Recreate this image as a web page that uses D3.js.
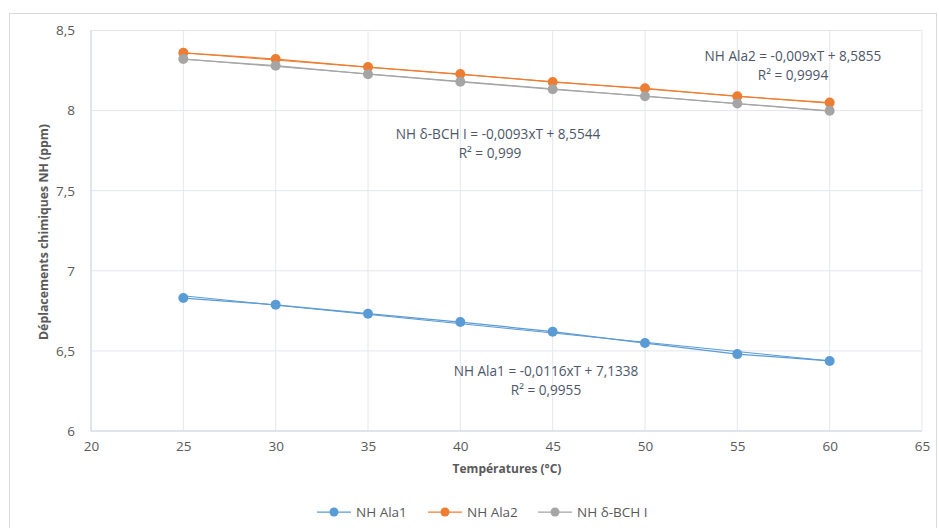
<!DOCTYPE html>
<html><head><meta charset="utf-8">
<script src="https://cdn.jsdelivr.net/npm/d3@7"></script>
<style>
body{margin:0;background:#fff;}
text{font-family:"Open Sans","Noto Sans",sans-serif;fill:#595959;}
</style></head>
<body><svg id="c" width="939" height="528"></svg>
<script>
const temperatures = [25, 30, 35, 40, 45, 50, 55, 60];
const ala1 = [6.830, 6.788, 6.732, 6.680, 6.620, 6.549, 6.480, 6.437];
const ala2 = [8.361, 8.322, 8.272, 8.228, 8.178, 8.139, 8.089, 8.050];
const bch = [8.322, 8.280, 8.227, 8.180, 8.133, 8.090, 8.044, 7.999];
const seriesNames = ["NH Ala1", "NH Ala2", "NH δ-BCH I"];
const seriesColors = ["#5b9bd5", "#ed7d31", "#a5a5a5"];
const trendSlopes = [-0.0116, -0.009, -0.0093];
const trendIntercepts = [7.1338, 8.5855, 8.5544];
const trendLabels = ["NH Ala1 = -0,0116xT + 7,1338", "NH Ala2 = -0,009xT + 8,5855", "NH δ-BCH I = -0,0093xT + 8,5544"];
const r2Labels = ["R² = 0,9955", "R² = 0,9994", "R² = 0,999"];
const xTicks = [20, 25, 30, 35, 40, 45, 50, 55, 60, 65];
const yTicks = [6, 6.5, 7, 7.5, 8, 8.5];

const svg = d3.select("#c");
svg.append("rect").attr("x",9.5).attr("y",13.5).attr("width",927).attr("height",530)
  .attr("fill","#fff").attr("stroke","#d9d9d9");

const x = d3.scaleLinear().domain([20,65]).range([91,922]);
const y = d3.scaleLinear().domain([6,8.5]).range([431,30.5]);
const fmt = d => String(d).replace(".", ",");

// grid
svg.append("g").selectAll("line").data(xTicks).join("line")
  .attr("x1",d=>x(d)).attr("x2",d=>x(d)).attr("y1",y(6)).attr("y2",y(8.5))
  .attr("stroke","#e3e6ee").attr("stroke-width",1);
svg.append("g").selectAll("line").data(yTicks).join("line")
  .attr("x1",x(20)).attr("x2",x(65)).attr("y1",d=>y(d)).attr("y2",d=>y(d))
  .attr("stroke","#e3e6ee").attr("stroke-width",1);
// axis lines
svg.append("line").attr("x1",x(20)).attr("x2",x(20)).attr("y1",y(6)).attr("y2",y(8.5)).attr("stroke","#d0d4de");
svg.append("line").attr("x1",x(20)).attr("x2",x(65)).attr("y1",y(6)).attr("y2",y(6)).attr("stroke","#d0d4de");

// tick labels via axes
const xAxis = svg.append("g").attr("transform",`translate(0,${y(6)})`)
  .call(d3.axisBottom(x).tickValues(xTicks).tickSize(0).tickPadding(10).tickFormat(d=>d));
xAxis.select(".domain").remove();
xAxis.selectAll("text").style("font-size","13.5px").attr("fill","#595959");
const yAxis = svg.append("g").attr("transform",`translate(${x(20)},0)`)
  .call(d3.axisLeft(y).tickValues(yTicks).tickSize(0).tickPadding(16).tickFormat(fmt));
yAxis.select(".domain").remove();
yAxis.selectAll("text").style("font-size","13.5px").attr("fill","#595959");

// titles
svg.append("text").attr("x",507).attr("y",473).attr("text-anchor","middle")
  .style("font-size","12px").style("font-weight","bold").text("Températures (°C)");
svg.append("text").attr("transform","translate(48,232) rotate(-90)").attr("text-anchor","middle")
  .style("font-size","12.3px").style("font-weight","bold").text("Déplacements chimiques NH (ppm)");

const allSeries = [ala1, ala2, bch];
const line = d3.line().x(d=>x(d[0])).y(d=>y(d[1]));
allSeries.forEach((vals,i)=>{
  const pts = temperatures.map((t,j)=>[t,vals[j]]);
  const trend = [temperatures[0], temperatures[temperatures.length-1]].map(t=>[t, trendSlopes[i]*t+trendIntercepts[i]]);
  svg.append("path").attr("d",line(trend)).attr("fill","none").attr("stroke",seriesColors[i]).attr("stroke-width",1);
  svg.append("path").attr("d",line(pts)).attr("fill","none").attr("stroke",seriesColors[i]).attr("stroke-width",1.25);
  svg.append("g").selectAll("circle").data(pts).join("circle")
    .attr("cx",d=>x(d[0])).attr("cy",d=>y(d[1])).attr("r",5).attr("fill",seriesColors[i]);
});

// trend labels
const labelPos = [[546,376],[793,61],[498,139]];
trendLabels.forEach((t,i)=>{
  const [lx,ly] = labelPos[i];
  svg.append("text").attr("x",lx).attr("y",ly).attr("text-anchor","middle").style("font-size","13.6px").style("fill","#4d5669").text(t);
  svg.append("text").attr("x",lx - (i===2?8:0)).attr("y",ly+19).attr("text-anchor","middle").style("font-size","13.6px").style("fill","#4d5669").text(r2Labels[i]);
});

// legend
const legX = [317, 428, 538];
seriesNames.forEach((n,i)=>{
  const g = svg.append("g").attr("transform",`translate(${legX[i]},512)`);
  g.append("line").attr("x1",0).attr("x2",34).attr("stroke",seriesColors[i]).attr("stroke-width",1.25);
  g.append("circle").attr("cx",17).attr("r",4.5).attr("fill",seriesColors[i]);
  g.append("text").attr("x",39).attr("y",5).style("font-size","13.5px").text(n);
});
</script></body></html>
